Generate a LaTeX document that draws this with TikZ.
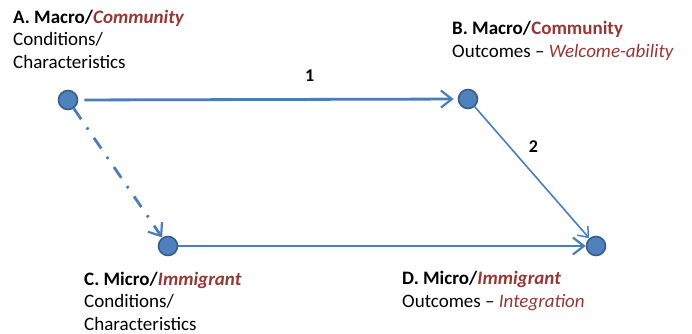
\documentclass[tikz,border=0pt]{standalone}
\usepackage{fontspec}
\setmainfont{Carlito}
\usepackage{xcolor}
\definecolor{linkblue}{HTML}{4A7EBB}
\definecolor{dotblue}{HTML}{4F81BD}
\definecolor{dotrim}{HTML}{385D8A}
\definecolor{accred}{HTML}{953735}
\usetikzlibrary{positioning,arrows.meta}
\tikzset{
  stage/.style={circle, fill=dotblue, draw=dotrim, line width=1.6pt,
                minimum size=19pt, inner sep=0pt},
  lbl/.style  ={align=left, inner sep=0pt, anchor=base west,
                font=\fontsize{19}{22.5}\selectfont},
  num/.style  ={font=\fontsize{18}{20}\selectfont\bfseries, inner sep=1pt},
  arr/.style  ={-{Straight Barb[length=11pt,width=17pt,line width=2.2pt]},
                draw=linkblue, line width=2.8pt},
  tarr/.style ={-{Straight Barb[length=9pt,width=14pt,line width=1.5pt]},
                draw=linkblue, line width=1.6pt},
  darr/.style ={arr, dash pattern=on 13pt off 10pt on 2.5pt off 10pt},
}
\newcommand{\hl}[1]{\textcolor{accred}{#1}}

\begin{document}
\begin{tikzpicture}[x=1pt, y=-1pt]
  \useasboundingbox (0,0) rectangle (692,333);
  % the four stages
  \node[stage] (a) at (68,100) {};
  \node[stage] (b) at (468,99) {};
  \node[stage] (c) at (168,246) {};
  \node[stage] (d) at (596,246) {};
  % their texts (anchored at the last line)
  \node[lbl] (atext) at (13,68) {\textbf{A. Macro/}\hl{\textbf{\textit{Community}}}\\Conditions/\\Characteristics};
  \node[lbl] (btext) at (452,57) {\textbf{B. Macro/}\hl{\textbf{Community}}\\Outcomes -- \hl{\textit{Welcome-ability}}};
  \node[lbl] (ctext) at (84,330) {\textbf{C. Micro/}\hl{\textbf{\textit{Immigrant}}}\\Conditions/\\Characteristics};
  \node[lbl] (dtext) at (402,307) {\textbf{D. Micro/}\hl{\textbf{\textit{Immigrant}}}\\Outcomes -- \hl{\textit{Integration}}};
  % links
  \draw[arr, shorten <=6pt, shorten >=4pt] (a) -- (b) node[num, pos=0.61, above=16pt] (one) {1};
  \draw[tarr] (b) -- (d) node[num, pos=0.3, right=18pt] (two) {2};
  \draw[darr] (a) -- (c);
  \draw[arr] (c) -- (d);
\end{tikzpicture}
\end{document}
